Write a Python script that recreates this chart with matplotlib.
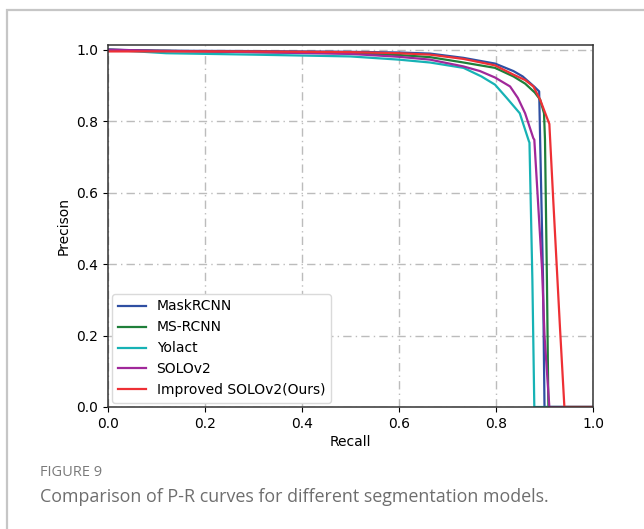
import matplotlib
matplotlib.use("Agg")
import matplotlib.pyplot as plt
from matplotlib.patches import Rectangle

# ── data ────────────────────────────────────────────────────────────────────
models = ["MaskRCNN", "MS-RCNN", "Yolact", "SOLOv2", "Improved SOLOv2(Ours)"]
colors = ["#2f4fa2", "#1f7f3a", "#17b2b5", "#a0289a", "#ee3035"]

mask_r = [0.0, 0.1, 0.3, 0.5, 0.6, 0.664, 0.733, 0.798, 0.836, 0.855, 0.870, 0.880, 0.889, 0.891, 0.897, 0.900, 1.0]
mask_p = [1.0, 0.997, 0.996, 0.994, 0.992, 0.989, 0.977, 0.961, 0.940, 0.925, 0.907, 0.895, 0.883, 0.748, 0.356, 0.0, 0.0]

ms_r = [0.0, 0.05, 0.3, 0.5, 0.6, 0.664, 0.733, 0.798, 0.836, 0.860, 0.880, 0.891, 0.899, 0.901, 0.905, 0.908, 1.0]
ms_p = [1.0, 0.998, 0.993, 0.990, 0.985, 0.979, 0.964, 0.949, 0.925, 0.905, 0.880, 0.860, 0.822, 0.748, 0.356, 0.0, 0.0]

yol_r = [0.0, 0.12, 0.3, 0.5, 0.6, 0.664, 0.733, 0.770, 0.798, 0.822, 0.849, 0.868, 0.869, 0.875, 0.879, 1.0]
yol_p = [1.0, 0.990, 0.986, 0.981, 0.972, 0.964, 0.949, 0.925, 0.902, 0.865, 0.822, 0.743, 0.740, 0.356, 0.0, 0.0]

solo_r = [0.0, 0.1, 0.3, 0.5, 0.6, 0.664, 0.733, 0.767, 0.798, 0.829, 0.845, 0.860, 0.877, 0.879, 0.895, 0.900, 0.910, 1.0]
solo_p = [1.0, 0.997, 0.993, 0.988, 0.980, 0.972, 0.953, 0.940, 0.922, 0.897, 0.865, 0.822, 0.752, 0.748, 0.384, 0.200, 0.0, 0.0]

ours_r = [0.0, 0.3, 0.5, 0.6, 0.664, 0.733, 0.798, 0.836, 0.860, 0.877, 0.891, 0.910, 0.918, 0.925, 0.932, 0.941, 1.0]
ours_p = [0.995, 0.995, 0.993, 0.990, 0.986, 0.974, 0.956, 0.930, 0.915, 0.897, 0.860, 0.792, 0.580, 0.400, 0.220, 0.0, 0.0]

recalls = [mask_r, ms_r, yol_r, solo_r, ours_r]
precisions = [mask_p, ms_p, yol_p, solo_p, ours_p]

# ── figure ──────────────────────────────────────────────────────────────────
W, H = 644, 529
fig = plt.figure(figsize=(W / 100, H / 100), dpi=100)
ax = fig.add_axes([108 / W, 1 - 407 / H, (593 - 108) / W, (407 - 45) / H])

for r, p, name, c in zip(recalls, precisions, models, colors):
    ax.plot(r, p, color=c, lw=1.6, label=name)

ax.set_xlim(0, 1.0)
ax.set_ylim(0, 1.013)
ax.set_xticks([0, 0.2, 0.4, 0.6, 0.8, 1.0])
ax.set_yticks([0, 0.2, 0.4, 0.6, 0.8, 1.0])
ax.tick_params(labelsize=10, colors="black")
ax.grid(True, ls=(0, (6, 3, 1, 3)), color="#bcbcbc", lw=1.0)
ax.set_axisbelow(True)
for s in ax.spines.values():
    s.set_color("#333333")
    s.set_linewidth(1.1)
ax.set_xlabel("Recall", fontsize=10, labelpad=3)
ax.set_ylabel("Precison", fontsize=10, labelpad=4)

leg = ax.legend(loc="lower left", fontsize=10, frameon=True, framealpha=1.0,
                borderaxespad=0.3, handlelength=2.0)
leg.get_frame().set_edgecolor("#dadada")

# page frame and caption
fig.patches.append(Rectangle((7 / W, -0.1), 1.2, 1 - 10 / H + 0.1, transform=fig.transFigure,
                             fill=False, edgecolor="#c6c6c6", lw=1.6))
fig.text(40 / W, 1 - 472 / H, "FIGURE 9", fontsize=10.5, color="#7a7a7a",
         family="Open Sans", va="center", ha="left")
fig.text(40 / W, 1 - 497 / H, "Comparison of P-R curves for different segmentation models.",
         fontsize=12.9, color="#6e6e6e", family="Open Sans", va="center", ha="left")

fig.savefig("out.png", dpi=100)
